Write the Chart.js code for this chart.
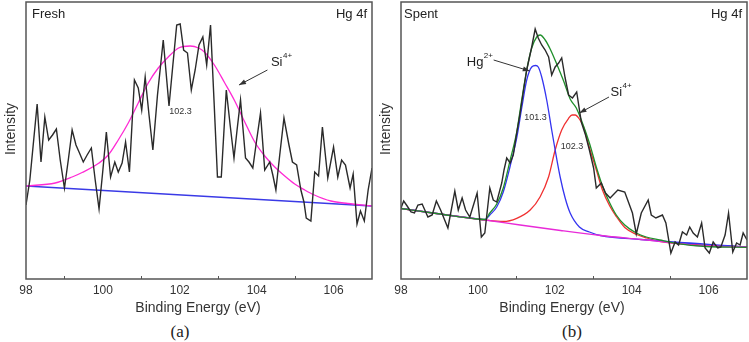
<!DOCTYPE html>
<html>
<head>
<meta charset="utf-8">
<script src="https://cdn.jsdelivr.net/npm/chart.js@4.4.1/dist/chart.umd.min.js"></script>
<style>
  body { margin: 0; background: #fff; width: 749px; height: 342px; position: relative; overflow: hidden; }
  canvas { position: absolute; top: 0; }
  #cFresh { left: 0; }
  #cSpent { left: 375px; }
  .tag { position: absolute; top: 322px; font-family: "Times New Roman", "Liberation Serif", serif; font-size: 17px; color: #222; transform: translateX(-50%); }
</style>
</head>
<body>
<canvas id="cFresh" width="375" height="320"></canvas>
<canvas id="cSpent" width="374" height="320"></canvas>
<div class="tag" style="left:180px">(a)</div>
<div class="tag" style="left:572px">(b)</div>
<script>
// ---- (a) Fresh: raw spectrum, Si4+ fit, background
const freshEnergy = [98.00, 98.10, 98.29, 98.39, 98.49, 98.59, 98.69, 98.79, 98.89, 99.00,
  99.10, 99.20, 99.30, 99.38, 99.49, 99.59, 99.70, 99.80, 99.90, 100.00,
  100.09, 100.20, 100.31, 100.40, 100.50, 100.59, 100.69, 100.82, 100.92, 101.01,
  101.10, 101.20, 101.30, 101.42, 101.57, 101.72, 101.82, 101.92, 102.01, 102.10,
  102.20, 102.30, 102.40, 102.50, 102.60, 102.70, 102.80, 102.89, 102.98, 103.08,
  103.21, 103.31, 103.41, 103.49, 103.58, 103.71, 103.80, 103.90, 104.00, 104.10,
  104.21, 104.34, 104.42, 104.50, 104.60, 104.71, 104.84, 104.93, 105.04, 105.15,
  105.23, 105.29, 105.41, 105.51, 105.61, 105.71, 105.85, 106.00, 106.11, 106.21,
  106.31, 106.43, 106.51, 106.61, 106.70, 106.80, 106.90, 107.00];
const freshCounts = [74, 99, 175, 117, 162, 139, 144, 150, 119, 91,
  119, 149, 134, 127, 117, 124, 131, 99, 70, 109,
  147, 102, 117, 107, 116, 137, 107, 199, 191, 169,
  202, 164, 129, 184, 239, 173, 214, 254, 255, 229,
  226, 189, 209, 234, 242, 214, 254, 179, 102, 102,
  189, 154, 121, 149, 179, 121, 117, 111, 139, 166,
  109, 117, 104, 89, 124, 161, 134, 117, 114, 89,
  77, 61, 58, 107, 103, 152, 101, 132, 102, 119,
  114, 91, 105, 55, 68, 58, 89, 111];
const freshFitEnergy = [98.00, 98.76, 99.20, 99.46, 99.90, 100.14, 100.40, 100.66, 100.92, 101.18,
  101.44, 101.70, 101.97, 102.27, 102.49, 102.64, 102.90, 103.17, 103.43, 103.69,
  103.95, 104.21, 104.47, 104.73, 104.99, 105.25, 105.50, 105.93, 106.37, 107.00];
const freshFitSi = [93, 96, 102, 106.5, 116, 124, 139, 156, 176, 196,
  211, 222, 231, 233, 231, 227, 214, 196, 178, 157,
  137, 123, 112, 103, 95, 89, 84, 78, 75.5, 73];
const freshBgEnergy = [98, 107];
const freshBg = [93, 73];

// ---- (b) Spent: raw spectrum, Hg2+ and Si4+ fits, envelope, background
const spentEnergy = [98.00, 98.07, 98.16, 98.26, 98.35, 98.44, 98.55, 98.70, 98.81, 98.92,
  99.03, 99.22, 99.40, 99.49, 99.59, 99.68, 99.79, 99.98, 100.09, 100.18,
  100.31, 100.40, 100.49, 100.62, 100.68, 100.75, 100.84, 100.92, 101.01, 101.10,
  101.18, 101.27, 101.40, 101.49, 101.57, 101.66, 101.75, 101.84, 101.92, 102.01,
  102.10, 102.18, 102.27, 102.36, 102.46, 102.57, 102.69, 102.80, 102.90, 103.01,
  103.08, 103.21, 103.32, 103.44, 103.64, 103.82, 104.02, 104.12, 104.25, 104.43,
  104.51, 104.63, 104.80, 104.89, 105.02, 105.13, 105.22, 105.32, 105.43, 105.51,
  105.60, 105.71, 105.82, 105.91, 106.02, 106.12, 106.24, 106.32, 106.43, 106.52,
  106.63, 106.73, 106.82, 106.90, 107.00];
const spentCounts = [71, 78, 73, 67, 66, 74, 75, 62, 64, 78,
  69, 51, 88, 69, 81, 69, 62, 86, 42, 46,
  91, 79, 77, 96, 109, 121, 116, 124, 146, 166,
  187, 209, 232, 250, 241, 234, 229, 222, 204, 212,
  216, 221, 201, 184, 181, 187, 157, 144, 129, 111,
  91, 96, 86, 81, 89, 87, 66, 45, 66, 79,
  64, 61, 64, 56, 26, 37, 34, 47, 44, 52,
  46, 42, 56, 31, 26, 37, 31, 32, 44, 66,
  27, 36, 34, 46, 39];
const spentBgEnergy = [98.00, 99.02, 100.19, 101.10, 102.15, 103.19, 104.24, 104.76, 105.54, 106.32, 107.00];
const spentBg = [70.5, 65, 59, 54, 48.5, 43.5, 39.5, 37.5, 34, 32.5, 32];
const spentEnvEnergy = [98.00, 99.02, 99.98, 100.19, 100.31, 100.49, 100.66, 100.84, 101.01, 101.14,
  101.27, 101.40, 101.53, 101.62, 101.75, 101.88, 102.05, 102.23, 102.40, 102.56,
  102.69, 102.90, 103.08, 103.25, 103.43, 103.60, 103.82, 104.12, 104.38, 104.73,
  105.15, 105.93, 107.00];
const spentEnv = [70.5, 65, 60, 59.5, 66, 75, 91, 119, 147, 179,
  209, 231, 242, 244, 239, 230, 215, 198, 180, 171,
  159, 136, 112, 92, 76, 64, 54, 46, 42, 39,
  35.7, 32.5, 31.7];
const hgEnergy = [98.00, 99.80, 100.19, 100.31, 100.49, 100.66, 100.84, 101.01, 101.14, 101.27,
  101.40, 101.50, 101.57, 101.66, 101.79, 101.92, 102.01, 102.14, 102.27, 102.40,
  102.64, 102.90, 103.19, 104.24, 107.00];
const hgFit = [70.5, 61, 59.5, 64, 72, 87, 113, 141, 171, 199,
  212, 213.5, 212, 202, 179, 149, 129, 102, 81, 66,
  52, 47, 43.5, 39.5, 32];
const siEnergy = [98.00, 100.19, 100.66, 101.01, 101.36, 101.62, 101.84, 102.01, 102.18, 102.36,
  102.45, 102.53, 102.64, 102.75, 102.88, 103.09, 103.24, 103.43, 103.61, 103.82,
  104.13, 104.39, 104.76, 107.00];
const siFit = [70.5, 59, 57.5, 60.7, 69, 82.3, 102.3, 129, 149, 160.7,
  164, 164, 160, 152, 134, 108, 89, 73, 62, 51.5,
  44.5, 41, 37.5, 32];

const xTicksMinor = [99, 101, 103, 105];

const series = (xs, ys) => xs.map((x, i) => ({ x, y: ys[i] }));

function line(xs, ys, color, smooth, width) {
  return {
    data: series(xs, ys),
    borderColor: color,
    borderWidth: width || 1.3,
    pointRadius: 0,
    fill: false,
    tension: 0,
    cubicInterpolationMode: smooth ? 'monotone' : 'default'
  };
}

function drawArrow(ctx, x1, y1, x2, y2) {
  const a = Math.atan2(y2 - y1, x2 - x1);
  ctx.beginPath();
  ctx.moveTo(x1, y1);
  ctx.lineTo(x2, y2);
  ctx.stroke();
  const c = Math.cos(a), s = Math.sin(a);
  ctx.beginPath();
  ctx.moveTo(x2, y2);
  ctx.lineTo(x2 - 7 * c + 2.5 * s, y2 - 7 * s - 2.5 * c);
  ctx.lineTo(x2 - 7 * c - 2.5 * s, y2 - 7 * s + 2.5 * c);
  ctx.closePath();
  ctx.fill();
}

// frame, corner labels, axis titles, peak labels and arrows
const decor = {
  id: 'decor',
  afterDraw(chart, args, o) {
    const { ctx, chartArea: a, scales: { x, y } } = chart;
    ctx.save();
    ctx.strokeStyle = '#555';
    ctx.lineWidth = 1.5;
    ctx.strokeRect(a.left, a.top, a.right - a.left, a.bottom - a.top);
    ctx.lineWidth = 1;
    xTicksMinor.forEach(v => {
      const px = Math.round(x.getPixelForValue(v)) + 0.5;
      ctx.beginPath();
      ctx.moveTo(px, a.bottom);
      ctx.lineTo(px, a.bottom - 3);
      ctx.stroke();
    });

    ctx.fillStyle = '#222';
    ctx.textBaseline = 'middle';
    ctx.font = '13px Arial, "Liberation Sans"';
    ctx.textAlign = 'left';
    ctx.fillText(o.sample, a.left + o.sampleDx, a.top + 12);
    ctx.textAlign = 'right';
    ctx.fillText('Hg 4f', a.right - 5, a.top + 12);

    ctx.textAlign = 'center';
    ctx.font = '14px Arial, "Liberation Sans"';
    ctx.fillStyle = '#333';
    ctx.fillText('Binding Energy (eV)', (a.left + a.right) / 2 + o.titleShift, 308);
    // y title sits a bit above the middle of the frame
    ctx.save();
    ctx.translate(11, 129);
    ctx.rotate(-Math.PI / 2);
    ctx.fillText('Intensity', 0, 0);
    ctx.restore();

    ctx.font = '9px Arial, "Liberation Sans"';
    o.values.forEach(t => ctx.fillText(t.text, x.getPixelForValue(t.at[0]), y.getPixelForValue(t.at[1])));

    ctx.fillStyle = '#222';
    ctx.textAlign = 'left';
    o.species.forEach(t => {
      const px = x.getPixelForValue(t.at[0]), py = y.getPixelForValue(t.at[1]);
      ctx.font = '13px Arial, "Liberation Sans"';
      ctx.fillText(t.base, px, py);
      const w = ctx.measureText(t.base).width;
      ctx.font = '8px Arial, "Liberation Sans"';
      ctx.fillText(t.sup, px + w + 0.5, py - 6);
    });

    ctx.strokeStyle = '#333';
    ctx.fillStyle = '#333';
    ctx.lineWidth = 1;
    o.arrows.forEach(r => drawArrow(ctx,
      x.getPixelForValue(r[0]), y.getPixelForValue(r[1]),
      x.getPixelForValue(r[2]), y.getPixelForValue(r[3])));
    ctx.restore();
  }
};

function xpsOptions(deco, padRight) {
  return {
    responsive: false,
    animation: false,
    events: [],
    layout: { padding: { top: 2, right: padRight, left: 0, bottom: 0 } },
    plugins: { legend: { display: false }, tooltip: { enabled: false }, decor: deco },
    scales: {
      x: {
        type: 'linear', min: 98, max: 107,
        grid: { display: false, drawTicks: false },
        border: { display: false },
        ticks: { stepSize: 2, includeBounds: false, padding: 4, color: '#333', font: { family: 'Arial', size: 12 } },
        afterFit: s => { s.height = 41; }
      },
      y: {
        min: 0, max: 277,
        grid: { display: false, drawTicks: false },
        border: { display: false },
        ticks: { display: false },
        afterFit: s => { s.width = 26; }
      }
    }
  };
}

new Chart(document.getElementById('cFresh'), {
  type: 'line',
  data: {
    datasets: [
      line(freshEnergy, freshCounts, '#2a2a2a', false, 1.4),
      line(freshFitEnergy, freshFitSi, '#ff2ad4', true),
      line(freshBgEnergy, freshBg, '#3a3ae6', false, 1.5)
    ]
  },
  options: xpsOptions({
    sample: 'Fresh', sampleDx: 6, titleShift: -1,
    values: [{ text: '102.3', at: [102.02, 167] }],
    species: [{ base: 'Si', sup: '4+', at: [104.37, 217] }],
    arrows: [[104.28, 209, 103.54, 194]]
  }, 3),
  plugins: [decor]
});

new Chart(document.getElementById('cSpent'), {
  type: 'line',
  data: {
    datasets: [
      line(spentEnergy, spentCounts, '#2a2a2a', false, 1.4),
      line(spentEnvEnergy, spentEnv, '#1f8f2a', true),
      line(spentBgEnergy, spentBg, '#e82ad8', true),
      line(hgEnergy, hgFit, '#3434f0', true),
      line(siEnergy, siFit, '#f03030', true)
    ]
  },
  options: xpsOptions({
    sample: 'Spent', sampleDx: 3, titleShift: -12,
    values: [{ text: '101.3', at: [101.50, 161] }, { text: '102.3', at: [102.45, 132] }],
    species: [{ base: 'Hg', sup: '2+', at: [99.71, 217] }, { base: 'Si', sup: '4+', at: [103.45, 187] }],
    arrows: [[100.41, 219, 101.35, 208], [103.41, 182, 102.64, 166]]
  }, 2),
  plugins: [decor]
});
</script>
</body>
</html>
